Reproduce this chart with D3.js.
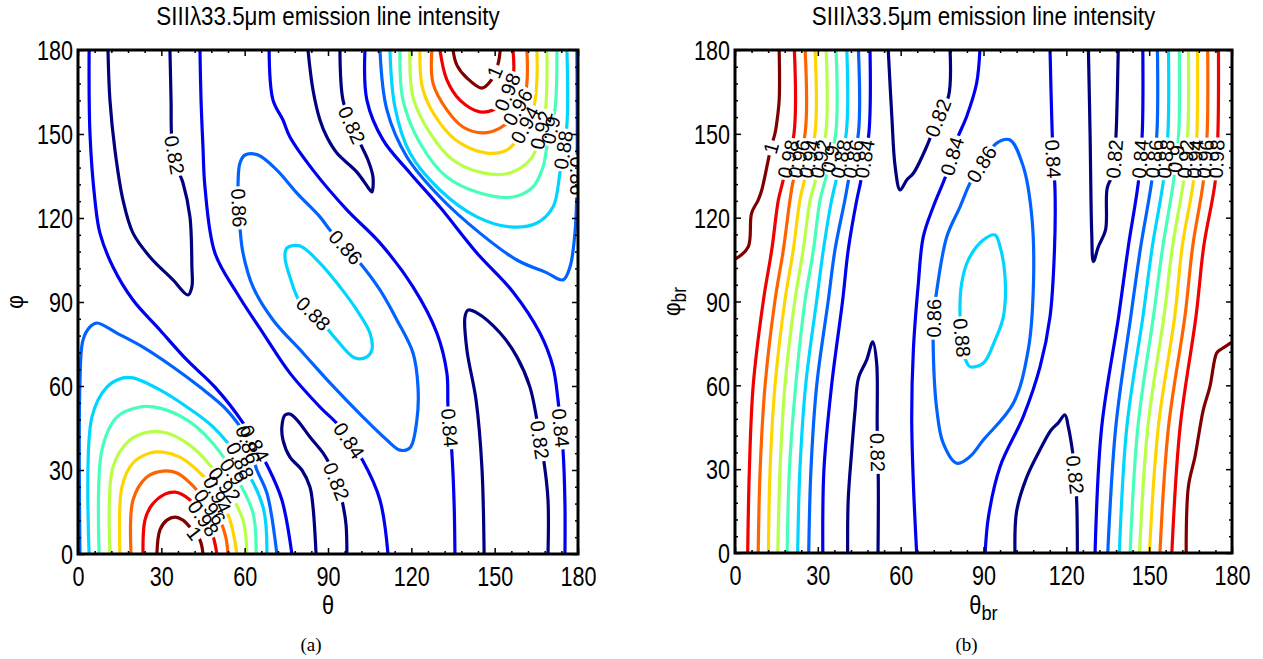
<!DOCTYPE html>
<html>
<head>
<meta charset="utf-8">
<script src="https://cdn.jsdelivr.net/npm/d3@7"></script>
<style>
  body { margin: 0; background: #fff; }
  svg { display: block; }
</style>
</head>
<body>
<svg id="chart" width="1263" height="659"></svg>
<script>
// contour levels and axis ticks
const levels = [0.82, 0.84, 0.86, 0.88, 0.90, 0.92, 0.94, 0.96, 0.98, 1.00];
const angleTicks = [0, 30, 60, 90, 120, 150, 180];
const minorTicks = [6, 12, 18, 24, 36, 42, 48, 54, 66, 72, 78, 84, 96, 102, 108, 114, 126, 132, 138, 144, 156, 162, 168, 174];
const titleText = "SIIIλ33.5μm emission line intensity";

// panel (a): contour lines as [theta, phi]
const linesA = [
  {level: 1.00, pts: [[28.4,0],[29.5,8.6],[32,12.1],[34.9,13.2],[37.8,12.1],[40.3,9.6],[43.9,5],[45,0]]},
  {level: 0.98, pts: [[23.4,0],[24.1,12.1],[26.6,17.5],[31.3,21.4],[34.9,22.1],[38.5,20.7],[41.4,18.2],[47.5,9.3],[49,5],[50,0]]},
  {level: 0.96, pts: [[19.1,0],[19.8,19.3],[24.8,27.5],[30.6,29.6],[35.6,28.9],[40.3,25.4],[45.7,19.3],[51.3,11.5],[53.2,6],[54,0]]},
  {level: 0.94, pts: [[15.1,0],[15.8,23.9],[19.8,32.5],[25.9,36.1],[30.6,36.4],[36.7,34.6],[42.8,30],[49.3,22.9],[54.7,12.1],[57.2,0]]},
  {level: 0.92, pts: [[11.5,0],[12.6,31.1],[18.7,40.7],[25.9,43.6],[32,43.2],[39.2,39.6],[45,34.6],[52.9,24.6],[59.4,12.1],[60.8,0]]},
  {level: 0.90, pts: [[7.6,0],[8.6,37.1],[14,48.9],[22.3,52.5],[29.5,52.1],[39.2,47.9],[47.5,40.7],[56.5,28.2],[63,14.6],[64.1,0]]},
  {level: 0.88, pts: [[4,0],[5,48.9],[10.4,59.6],[16.2,62.9],[19.8,62.9],[29.5,58.6],[39.2,52.5],[48.6,45.4],[58.3,33.6],[66.6,16.8],[68,0]]},
  {level: 0.86, pts: [[0.7,0],[0.7,61.1],[1.8,76.4],[4.3,81.1],[6.8,82.5],[14,78.9],[23.4,73.9],[34.2,66.8],[43.9,59.6],[53.6,51.4],[60.1,42.5],[64.4,30],[68,21.8],[71.6,0]]},
  {level: 0.84, pts: [[4,180],[4.3,150.4],[6.1,126.4],[7.9,114.6],[12.6,102.5],[19.8,90.7],[29.5,80],[39.2,69.3],[49.3,59.6],[59.4,46.8],[68.4,31.1],[73.4,19.3],[77,0]]},
  {level: 0.82, pts: [[10.8,180],[11.5,162.1],[13.3,144.3],[16.2,126.4],[19.8,114.6],[25.9,106.1],[34.2,97.9],[39.6,92.5],[41,95.4],[41,102.5],[40.3,120.4],[37.8,132.5],[35.6,138.2],[33.8,147.9],[33.5,162.1],[33.1,180]]},
  {level: 0.84, pts: [[43.9,180],[44.3,162],[45,145],[45.7,131.1],[49.3,107.5],[57.2,93.2],[66.6,78.9],[76.3,64.6],[87.1,52.5],[94.3,45.4],[102.6,33.2],[108.7,19.3],[111.6,0]]},
  {level: 0.86, closed: true, pts: [[60.1,142.5],[64.8,142.5],[71.6,137.1],[78.8,128.9],[87.1,120.4],[90.7,115.7],[101.5,103.9],[108.7,94.3],[114.8,83.6],[120.6,71.8],[122.4,59.6],[122,47.9],[119.5,37.9],[115.9,37.1],[111.2,40.7],[102.6,48.9],[90.7,61.1],[81,71.8],[70.2,83.6],[63,95.4],[59.4,107.5],[58.3,116.8],[57.6,131.1],[58.3,139.6]]},
  {level: 0.88, closed: true, pts: [[75.2,109.3],[79.9,110],[87.1,103.9],[94.3,95.4],[100.4,87.1],[105.1,78.9],[105.8,72.9],[104,70.4],[99.7,70],[93.2,76.4],[87.1,83.6],[83.5,87.1],[79.9,90],[76.3,98.9],[74.5,106.1]]},
  {level: 0.84, pts: [[68.8,180],[70.2,162.1],[73.8,155],[76.3,148.9],[84.6,137.1],[96.8,122.9],[108.7,111.1],[120.6,95.4],[129.2,78.9],[132.8,64.6],[133.2,52.5],[134.6,36],[135.4,18],[135.7,0]]},
  {level: 0.82, pts: [[82.8,180],[84.6,165.7],[87.1,155],[89.6,148.9],[93.2,143.2],[100.4,136.4],[105.1,130],[105.8,129.3],[106.2,134.6],[104.4,140.7],[102.2,145.4],[98.6,153.2],[95.4,162.1],[94.3,180]]},
  {level: 0.82, pts: [[85.7,0],[84.6,16.8],[83.5,23.9],[80.6,30],[76.3,34.6],[73.8,40.7],[73.4,45.4],[74.5,49.6],[76.3,50],[78.8,47.9],[83.5,41.8],[88.2,36.1],[90.7,31.8],[93.6,24.6],[95.4,17.5],[96.5,10.4],[96.8,0]]},
  {level: 0.82, pts: [[146.2,0],[145.4,31.1],[143.3,55],[140,72.9],[139.3,84.6],[140.4,87.1],[143.6,86.1],[151.9,79],[158,70.4],[162.7,59.6],[165.2,47.9],[166.3,40.7],[167.8,32.5],[169.2,19.3],[169.2,0]]},
  {level: 0.84, pts: [[103.3,180],[104,162.1],[109.8,147.9],[119.5,136.1],[130.3,123.9],[143.6,107.5],[156.6,93.6],[166.3,78.9],[171,66.8],[172.8,55],[173.8,45],[174.6,37.1],[175.3,17.9],[175.3,0]]},
  {level: 1.00, pts: [[135,180],[136.4,174.6],[140,170],[145.4,166.4],[148.6,169],[151.2,175],[152,180]]},
  {level: 0.98, pts: [[130.3,180],[132.8,169.3],[137.5,162.1],[144.7,157.9],[149.4,158.6],[153,161.4],[156.6,170],[156.6,180]]},
  {level: 0.96, pts: [[127.4,180],[127.8,168.2],[132.8,158.6],[138.6,152.5],[145.8,150.4],[151.9,152.1],[155.5,155],[160.9,164],[161.6,180]]},
  {level: 0.94, pts: [[123.1,180],[124.2,165.7],[130.3,153.9],[137.5,146.8],[147.2,143.2],[154.4,144.3],[158,147.9],[163.8,158.6],[165.2,169.3],[165.2,180]]},
  {level: 0.92, pts: [[119.5,180],[120.6,163.2],[126.7,150.4],[135,140.7],[145.8,136.1],[155.5,136.1],[162.7,140.7],[165.2,145.4],[168.1,156.8],[168.8,169.3],[168.8,180]]},
  {level: 0.90, pts: [[115.9,180],[117,162.1],[123.1,146.8],[132.8,134.6],[144.7,128.9],[156.6,127.5],[163.8,131.1],[167.4,138.2],[168.8,145.4],[171.7,158.6],[172.4,180]]},
  {level: 0.88, pts: [[112.3,180],[114.1,159.6],[119.5,143.2],[130.3,130],[143.6,120.4],[155.5,116.8],[165.2,118.2],[171,123.9],[173.5,136.1],[176,153.2],[176,180]]},
  {level: 0.86, pts: [[108.7,180],[111.2,158.6],[118.4,141.8],[130.3,127.5],[144.7,114.6],[158,105],[168.8,100.4],[174.6,97.9],[177.1,102.5],[178.9,114.6],[179.6,130],[179.6,180]]}
];

// panel (a): inline labels [level, theta, phi]
const labelsA = [
  [0.82,34.6,142.5],[0.86,57.6,123.6],[0.82,98.6,153.2],[0.86,96.1,109.3],[0.88,83.5,84.6],
  [0.84,97.9,40.7],[0.84,133.2,45],[0.82,92.5,25.7],[0.82,166.3,40.7],[0.84,173.8,45],
  [1.00,150.2,172],[0.98,154.6,165],[0.96,158.3,159.6],[0.94,160.9,153.2],[0.92,166.7,151.4],
  [0.90,170.1,151.4],[0.88,174.7,144.3],[0.86,179.4,135],
  [1.00,42.1,7.5],[0.98,45.4,12.9],[0.96,47.5,16.8],[0.94,50,21.1],[0.92,52.6,24.6],
  [0.90,55.4,29.3],[0.88,58.3,33.2],[0.86,60.8,38.9],[0.84,63.7,39.6]
];

// panel (b): contour lines as [theta_br, phi_br]
const linesB = [
  {level: 1.00, pts: [[16,180],[16,162.1],[15.1,153.8],[14.5,150.2],[13,145],[9.7,129.9],[8.4,126.3],[6,121.6],[4.8,109.6],[0.6,105.5],[0,105.3]]},
  {level: 0.98, pts: [[21.5,180],[21.4,150.3],[17.3,132.8],[15.7,126.3],[13.3,108.4],[10.3,90.5],[6.6,60.1],[5.2,29.7],[4.6,0]]},
  {level: 0.96, pts: [[25.4,180],[25.4,150.3],[21,132.8],[19.9,126.3],[17.5,108.4],[14.5,90.5],[10.9,60.1],[9.1,29.7],[8.4,0]]},
  {level: 0.94, pts: [[29,180],[29,150.3],[25,132.8],[23.5,126.3],[21.1,108.4],[18.1,90.5],[14.5,60.1],[12.7,29.7],[12.1,0]]},
  {level: 0.92, pts: [[33,180],[32.9,150.3],[29,132.8],[27.2,126.3],[24.7,108.4],[21.7,90.5],[18.1,60.1],[16.3,29.7],[15.5,0]]},
  {level: 0.90, pts: [[36.6,180],[36.5,150.3],[32.5,132.8],[30.8,126.3],[28.4,108.4],[25.4,90.5],[22,60.1],[19.7,29.7],[18.9,0]]},
  {level: 0.88, pts: [[40.5,180],[40.3,150.3],[36.5,132.8],[35,126.3],[32,108.4],[29.6,90.5],[25.6,60.1],[23.5,29.7],[22.7,0]]},
  {level: 0.86, pts: [[44.7,180],[44.7,150.3],[41,132.8],[39.8,126.3],[36.2,108.4],[33.8,90.5],[29.6,60.1],[27.5,29.7],[26.7,0]]},
  {level: 0.84, pts: [[48.9,180],[48.5,150.3],[45.5,132.8],[44.1,126.3],[41,108.4],[39,90.5],[35,60.1],[32.2,29.7],[31.8,0]]},
  {level: 0.82, pts: [[40.8,0],[41,19],[42.3,36.9],[43.5,51.2],[44.7,62.5],[47.7,69.1],[49.9,75.6],[51.3,68],[51.5,45],[51.9,26],[51.8,0]]},
  {level: 0.82, pts: [[55.5,180],[56.8,156.2],[58,138.3],[59.8,129.9],[62.2,133.5],[64.6,135.9],[69.4,145.4],[73.5,155.7],[77.3,163.3],[77.9,180]]},
  {level: 0.84, pts: [[88.7,180],[87.5,168.1],[83.9,156.2],[80.3,147.8],[76.7,135.9],[71.8,123.9],[68.2,113.2],[66.4,96.5],[64.6,72.7],[64,48.8],[64.6,24.9],[65.8,0]]},
  {level: 0.86, closed: true, pts: [[94.8,146.7],[99.6,147.8],[104.4,138.3],[107.5,120.4],[108.1,96.5],[106.2,72.7],[100.8,53.6],[89.9,40.4],[85.1,34.5],[80.3,32.1],[75.4,39.3],[73.1,51.2],[71.8,72.7],[72,85],[73.1,94.1],[76.7,113.2],[81.5,123.9],[85.1,132.3],[89.5,139.5]]},
  {level: 0.88, closed: true, pts: [[81.5,84.6],[82.1,96.5],[84.5,104.9],[89.9,112],[94.2,113.8],[96,109.6],[97.8,98.9],[97.2,84.6],[94.2,76.2],[89.9,67.9],[85.1,66.7],[83.3,69.7],[82.3,76.5]]},
  {level: 0.84, pts: [[114.1,180],[114.7,156.2],[115.2,142],[115.9,129.9],[115.7,108.4],[114.1,84.6],[110.5,66.7],[104.4,48.8],[96,30.9],[91.8,13],[90.6,0]]},
  {level: 0.82, pts: [[128,180],[128.6,150],[129.2,114.4],[129.8,104.3],[131.6,109.6],[134.2,115.6],[134.8,130.6],[137,136],[137.8,146],[138.2,154.4],[138.8,180]]},
  {level: 0.82, pts: [[101.4,0],[102,15],[105.6,27],[110.5,37],[114.5,44],[117,46.5],[119.5,49.4],[120.7,45.2],[122.3,36],[123.2,28],[123.8,17],[124,0]]},
  {level: 0.84, pts: [[147.7,180],[147.5,150.3],[146.1,132.8],[142.5,110],[139,85],[132.8,45],[130.4,0]]},
  {level: 0.86, pts: [[153,180],[152.8,150.3],[150.9,132.8],[147,110],[143.4,85],[137.9,45],[135,0]]},
  {level: 0.88, pts: [[157,180],[156.8,150.3],[155.1,132.8],[151.2,110],[147.8,85],[141.9,45],[139.2,0]]},
  {level: 0.90, pts: [[160.9,180],[160.7,150.3],[158.8,132.8],[155,110],[151.6,85],[145.9,45],[143.1,0]]},
  {level: 0.92, pts: [[164.2,180],[164,150.3],[162.4,132.8],[158.5,110],[155.4,85],[149.5,45],[146.5,0]]},
  {level: 0.94, pts: [[167.5,180],[167.3,150.3],[166,132.8],[162,110],[159.3,85],[153.3,45],[150.1,0]]},
  {level: 0.96, pts: [[171.2,180],[171,150.3],[169.6,132.8],[165.8,110],[163,85],[157,45],[153.9,0]]},
  {level: 0.98, pts: [[175.1,180],[174.9,150.3],[173.9,132.8],[169.8,110],[167,85],[161.2,45],[158.2,0]]},
  {level: 1.00, pts: [[180,75.5],[179.3,75],[175.7,72.7],[174.4,71.5],[172,59.5],[169.6,51.2],[166.6,34.5],[164.2,23.7],[163.4,0]]}
];

// panel (b): inline labels [level, theta_br, phi_br]
const labelsB = [
  [1.00,13,145],[0.98,19.4,141],[0.96,23.2,141],[0.94,27,141],[0.92,31,141],
  [0.90,34.5,141],[0.88,38.4,141],[0.86,42.8,141],[0.84,47,141],
  [0.82,73.5,155.7],[0.84,78.5,142],[0.86,89.5,139],[0.86,72,84],[0.88,82,77],
  [0.84,115,141],[0.82,137.5,141],[0.82,51.7,36],[0.82,123,28],
  [0.84,146.8,141],[0.86,151.9,141],[0.88,156,141],[0.90,159.8,141],
  [0.92,163.2,141],[0.94,166.7,141],[0.96,170.3,141],[0.98,174.4,141]
];

const svg = d3.select("#chart");
const sans = "'Liberation Sans', Arial, Helvetica, sans-serif";

// jet colour map over the contour levels
const jet = d3.scaleLinear()
  .domain([0.82, 0.8425, 0.8875, 0.9325, 0.9775, 1.0])
  .range(["#000080", "#0000ff", "#00ffff", "#ffff00", "#ff0000", "#800000"]);

const panels = [
  {id: "a", left: 78, right: 578, top: 50, bottom: 554, lines: linesA, labels: labelsA, sub: "", tag: "(a)"},
  {id: "b", left: 735, right: 1232, top: 50, bottom: 553, lines: linesB, labels: labelsB, sub: "br", tag: "(b)"}
];

panels.forEach(drawPanel);

function drawPanel(p) {
  const x = d3.scaleLinear().domain([0, 180]).range([p.left, p.right]);
  const y = d3.scaleLinear().domain([0, 180]).range([p.bottom, p.top]);
  const cx = (p.left + p.right) / 2;
  const cy = (p.top + p.bottom) / 2;

  const defs = svg.append("defs");
  defs.append("clipPath").attr("id", "clip-" + p.id)
    .append("rect")
    .attr("x", p.left).attr("y", p.top)
    .attr("width", p.right - p.left).attr("height", p.bottom - p.top);
  const mask = defs.append("mask").attr("id", "mask-" + p.id)
    .attr("maskUnits", "userSpaceOnUse")
    .attr("x", 0).attr("y", 0).attr("width", 1263).attr("height", 659);
  mask.append("rect").attr("width", 1263).attr("height", 659).attr("fill", "white");

  const plot = svg.append("g").attr("clip-path", `url(#clip-${p.id})`);
  const lineG = plot.append("g").attr("mask", `url(#mask-${p.id})`);

  const openLine = d3.line().x(d => x(d[0])).y(d => y(d[1])).curve(d3.curveCatmullRom.alpha(0.5));
  const closedLine = d3.line().x(d => x(d[0])).y(d => y(d[1])).curve(d3.curveCatmullRomClosed.alpha(0.5));

  lineG.selectAll("path")
    .data(p.lines)
    .enter()
    .append("path")
    .attr("d", d => (d.closed ? closedLine : openLine)(d.pts))
    .attr("fill", "none")
    .attr("stroke", d => jet(d.level))
    .attr("stroke-width", 3.2)
    .attr("stroke-linejoin", "round")
    .attr("stroke-linecap", "round");

  // inline contour labels, snapped to the nearest line of their level
  const labelG = plot.append("g");
  p.labels.forEach(([lev, th, ph]) => {
    const px = x(th), py = y(ph);
    let best = null;
    p.lines.filter(l => Math.abs(l.level - lev) < 1e-6).forEach(l => {
      const P = l.pts.map(q => [x(q[0]), y(q[1])]);
      const n = l.closed ? P.length : P.length - 1;
      for (let i = 0; i < n; i++) {
        const a = P[i], b = P[(i + 1) % P.length];
        const dx = b[0] - a[0], dy = b[1] - a[1];
        const len2 = dx * dx + dy * dy || 1;
        let t = ((px - a[0]) * dx + (py - a[1]) * dy) / len2;
        t = Math.max(0, Math.min(1, t));
        const qx = a[0] + t * dx, qy = a[1] + t * dy;
        const dist = (qx - px) ** 2 + (qy - py) ** 2;
        if (!best || dist < best.dist) best = {dist, qx, qy, ang: Math.atan2(dy, dx) * 180 / Math.PI};
      }
    });
    if (!best) return;
    let ang = best.ang;
    if (ang > 90) ang -= 180;
    if (ang <= -90) ang += 180;
    const tf = `translate(${best.qx},${best.qy}) rotate(${ang})`;
    const g = labelG.append("g").attr("transform", tf);
    const txt = g.append("text")
      .text(String(lev))
      .attr("text-anchor", "middle")
      .attr("dy", "0.36em")
      .attr("font-family", sans)
      .attr("font-size", 20)
      .attr("fill", "black");
    const w = txt.node().getComputedTextLength();
    mask.append("rect")
      .attr("x", -w / 2 - 2).attr("y", -8)
      .attr("width", w + 4).attr("height", 16)
      .attr("transform", tf)
      .attr("fill", "black");
  });

  // ticks on all four sides, pointing inward
  const sides = [
    {gen: () => d3.axisBottom(x), t: `translate(0,${p.bottom})`, labels: "bottom"},
    {gen: () => d3.axisTop(x), t: `translate(0,${p.top})`, labels: null},
    {gen: () => d3.axisLeft(y), t: `translate(${p.left},0)`, labels: "left"},
    {gen: () => d3.axisRight(y), t: `translate(${p.right},0)`, labels: null}
  ];
  sides.forEach(s => {
    const gMinor = svg.append("g").attr("transform", s.t)
      .call(s.gen().tickValues(minorTicks).tickSizeInner(-3).tickSizeOuter(0).tickFormat(""));
    gMinor.select(".domain").remove();
    gMinor.selectAll("line").attr("stroke-width", 1.5);

    const gMajor = svg.append("g").attr("transform", s.t)
      .call(s.gen().tickValues(angleTicks).tickSizeInner(-6).tickSizeOuter(0)
        .tickFormat(s.labels ? d3.format("d") : ""));
    gMajor.select(".domain").remove();
    gMajor.selectAll("line").attr("stroke-width", 1.5);
    gMajor.attr("font-family", sans).attr("font-size", 27);
    if (s.labels === "bottom") {
      gMajor.selectAll("text")
        .attr("y", null).attr("dy", null)
        .attr("transform", "translate(0,32) scale(0.8,1)");
    } else if (s.labels === "left") {
      gMajor.selectAll("text")
        .attr("x", null).attr("dy", "0.36em")
        .attr("transform", "translate(-5,0) scale(0.8,1)");
    }
  });

  // frame
  svg.append("rect")
    .attr("x", p.left).attr("y", p.top)
    .attr("width", p.right - p.left).attr("height", p.bottom - p.top)
    .attr("fill", "none").attr("stroke", "black").attr("stroke-width", 3);

  // title
  svg.append("text")
    .attr("transform", `translate(${cx},25) scale(0.86,1)`)
    .attr("text-anchor", "middle")
    .attr("font-family", sans).attr("font-size", 26)
    .text(titleText);

  // x label
  const xl = svg.append("text")
    .attr("transform", `translate(${cx},614) scale(0.87,1)`)
    .attr("text-anchor", "middle")
    .attr("font-family", sans).attr("font-size", 25);
  xl.append("tspan").text("θ");
  if (p.sub) xl.append("tspan").attr("dy", 6).attr("font-size", 21).text(p.sub);

  // y label
  const yl = svg.append("text")
    .attr("transform", `translate(${p.left - 55},${cy}) rotate(-90) scale(0.87,1)`)
    .attr("text-anchor", "middle")
    .attr("font-family", sans).attr("font-size", 24);
  yl.append("tspan").text("φ");
  if (p.sub) yl.append("tspan").attr("dy", 6).attr("font-size", 20).text(p.sub);

  // panel tag
  svg.append("text")
    .attr("x", cx - 17).attr("y", 651)
    .attr("text-anchor", "middle")
    .attr("font-family", "'Liberation Serif', 'Times New Roman', serif")
    .attr("font-size", 19)
    .text(p.tag);
}
</script>
</body>
</html>
